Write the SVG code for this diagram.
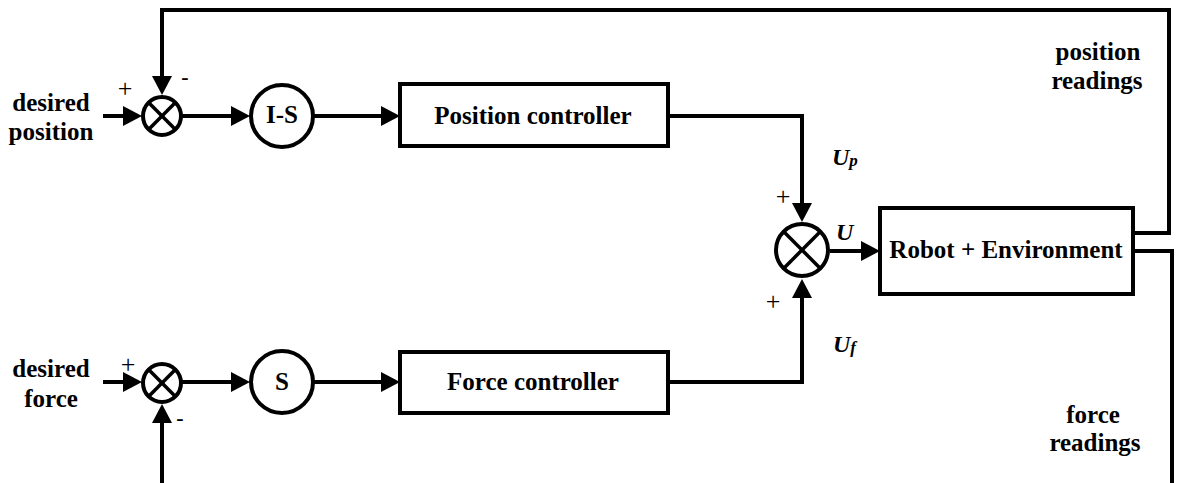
<svg xmlns="http://www.w3.org/2000/svg" width="1177" height="483" viewBox="0 0 1177 483">
<defs>
<style>
.ln{fill:none;stroke:#000;stroke-width:4;stroke-linejoin:miter}
.nd{fill:#fff;stroke:#000;stroke-width:4}
.x{stroke:#000;stroke-width:3.5}
.t{font-family:"Liberation Serif","Times New Roman",serif;font-weight:bold;font-size:25px;text-anchor:middle;fill:#000}
.s{font-family:"Liberation Serif","Times New Roman",serif;font-size:26px;text-anchor:middle;fill:#000}
.m{font-family:"Liberation Serif","Times New Roman",serif;font-weight:bold;font-size:22px;text-anchor:middle;fill:#000}
.u{font-family:"Liberation Serif","Times New Roman",serif;font-weight:bold;font-style:italic;font-size:24px;fill:#000}
.sub{font-size:17px}
</style>
<marker id="ah" markerUnits="userSpaceOnUse" markerWidth="20" markerHeight="20" refX="10" refY="10" orient="auto" overflow="visible">
<path d="M0,0 L19,10 L0,20 z" fill="#000"/>
</marker>
</defs>
<rect width="1177" height="483" fill="#fff"/>
<g id="connectors">
<path class="ln" d="M103,116 H133" marker-end="url(#ah)"/>
<path class="ln" d="M182,116 H241" marker-end="url(#ah)"/>
<path class="ln" d="M314,116 H391" marker-end="url(#ah)"/>
<path class="ln" d="M668,116 H802 V213" marker-end="url(#ah)"/>
<path class="ln" d="M1133,233 H1169 V10 H162 V86" marker-end="url(#ah)"/>
<path class="ln" d="M830,251 H871" marker-end="url(#ah)"/>
<path class="ln" d="M1133,251 H1172 V483"/>
<path class="ln" d="M103,382 H133" marker-end="url(#ah)"/>
<path class="ln" d="M182,382 H241" marker-end="url(#ah)"/>
<path class="ln" d="M314,382 H391" marker-end="url(#ah)"/>
<path class="ln" d="M668,382 H802 V288" marker-end="url(#ah)"/>
<path class="ln" d="M162,483 V413" marker-end="url(#ah)"/>
</g>
<g id="sum-position">
<circle class="nd" cx="162" cy="116" r="19"/>
<line class="x" x1="148.6" y1="102.6" x2="175.4" y2="129.4"/>
<line class="x" x1="175.4" y1="102.6" x2="148.6" y2="129.4"/>
</g>
<g id="sum-force">
<circle class="nd" cx="162" cy="383" r="19"/>
<line class="x" x1="148.6" y1="369.6" x2="175.4" y2="396.4"/>
<line class="x" x1="175.4" y1="369.6" x2="148.6" y2="396.4"/>
</g>
<g id="sum-u">
<circle class="nd" cx="802" cy="250" r="26"/>
<line class="x" x1="783.6" y1="231.6" x2="820.4" y2="268.4"/>
<line class="x" x1="820.4" y1="231.6" x2="783.6" y2="268.4"/>
</g>
<g id="is">
<circle class="nd" cx="282" cy="116" r="31"/>
<text class="t" x="282" y="123">I-S</text>
</g>
<g id="s">
<circle class="nd" cx="282" cy="382" r="31"/>
<text class="t" x="282" y="390">S</text>
</g>
<g id="position-controller">
<rect class="nd" x="400" y="84" width="268" height="62"/>
<text class="t" x="533" y="124">Position controller</text>
</g>
<g id="force-controller">
<rect class="nd" x="400" y="352" width="268" height="61"/>
<text class="t" x="533" y="390">Force controller</text>
</g>
<g id="robot">
<rect class="nd" x="880" y="208" width="253" height="86"/>
<text class="t" x="1006" y="258">Robot + Environment</text>
</g>
<g id="labels">
<text class="t" x="51" y="111">desired</text>
<text class="t" x="51" y="140">position</text>
<text class="t" x="51" y="377">desired</text>
<text class="t" x="51" y="407">force</text>
<text class="t" x="1098" y="60">position</text>
<text class="t" x="1097" y="89">readings</text>
<text class="t" x="1093" y="423">force</text>
<text class="t" x="1095" y="451">readings</text>
<text class="s" x="125" y="97">+</text>
<text class="m" x="185" y="84">-</text>
<text class="s" x="128" y="373">+</text>
<text class="m" x="180" y="425">-</text>
<text class="s" x="783" y="205">+</text>
<text class="s" x="773" y="310">+</text>
<text class="u" x="832" y="165">U<tspan class="sub" dy="1">p</tspan></text>
<text class="u" x="836" y="240">U</text>
<text class="u" x="833" y="352">U<tspan class="sub" dy="1">f</tspan></text>
</g>
</svg>
